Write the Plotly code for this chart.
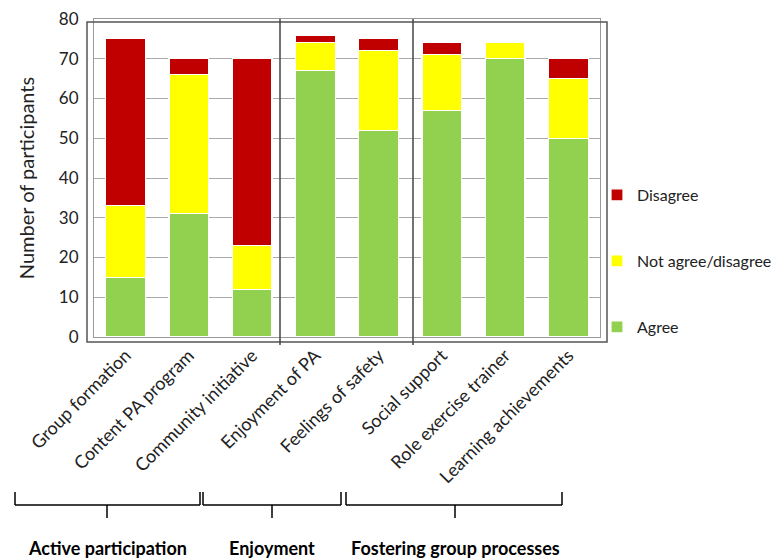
import plotly.graph_objects as go

categories = ["Group formation", "Content PA program", "Community initiative",
              "Enjoyment of PA", "Feelings of safety", "Social support",
              "Role exercise trainer", "Learning achievements"]
agree = [15, 31, 12, 67, 52, 57, 70, 50]
neutral = [18, 35, 11, 7, 20, 14, 4, 15]
disagree = [42, 4, 47, 2, 3, 3, 0, 5]

group_names = ["Active participation", "Enjoyment", "Fostering group processes"]

# layout helpers (pixel -> paper)
L, R, T, B = 94, 600, 19, 337
W, H = R - L, B - T
def px(x):
    return (x - L) / W
def py(y):
    return (B - y) / H

fig = go.Figure()
series = [("Agree", agree, "#92D050", "legend3", 329),
          ("Not agree/disagree", neutral, "#FFFF00", "legend2", 263),
          ("Disagree", disagree, "#C00000", "legend", 197)]
legends = {}
for name, vals, col, lg, ypix in series:
    fig.add_trace(go.Bar(x=categories, y=vals, name=name, legend=lg,
                         marker=dict(color=col, line=dict(color="white", width=1.2))))
    legends[lg] = dict(x=px(597), xanchor="left", y=py(ypix - 19), yanchor="top",
                       itemwidth=30, font=dict(size=16, color="#222222"),
                       bgcolor="rgba(0,0,0,0)")

shapes = []
# outer dark frame
shapes.append(dict(type="rect", xref="paper", yref="paper",
                   x0=px(87), x1=px(607), y0=py(342), y1=py(22),
                   line=dict(color="#555555", width=1.5), layer="above"))
# dividers
for xd in (280, 413):
    shapes.append(dict(type="line", xref="paper", yref="paper",
                       x0=px(xd), x1=px(xd), y0=py(345), y1=py(19),
                       line=dict(color="#444444", width=1.5), layer="above"))
# brackets
brackets = [(15, 200, 107), (203, 341, 272), (346, 562, 455)]
for (a, b, c), gname in zip(brackets, group_names):
    shapes.append(dict(type="line", xref="paper", yref="paper", x0=px(a), x1=px(b),
                       y0=py(505), y1=py(505), line=dict(color="black", width=1.5)))
    for e in (a, b):
        shapes.append(dict(type="line", xref="paper", yref="paper", x0=px(e), x1=px(e),
                           y0=py(492), y1=py(505), line=dict(color="black", width=1.5)))
    shapes.append(dict(type="line", xref="paper", yref="paper", x0=px(c), x1=px(c),
                       y0=py(505), y1=py(518), line=dict(color="black", width=1.5)))
    fig.add_annotation(x=px(c), y=py(548), xref="paper", yref="paper", text="<b>" + gname + "</b>",
                       showarrow=False, font=dict(size=18, color="black", family="Lato"),
                       xanchor="center", yanchor="middle")

fig.update_layout(
    width=771, height=560,
    margin=dict(l=L, r=771 - R, t=T, b=560 - B, autoexpand=False),
    barmode="stack", bargap=0.37,
    plot_bgcolor="white", paper_bgcolor="white",
    font=dict(family="Lato", size=16, color="#222222"),
    shapes=shapes,
    showlegend=True,
    xaxis=dict(tickangle=-45, showline=True, linecolor="#999999", mirror=True,
               showgrid=False, ticks="", tickfont=dict(size=18, color="#222222")),
    yaxis=dict(range=[0, 80], dtick=10, showgrid=True, gridcolor="#aaaaaa",
               showline=True, linecolor="#999999", mirror=True, zeroline=False,
               ticks="", ticklabelstandoff=11,
               tickfont=dict(size=17, color="#222222"),
               title=dict(text="Number of participants", font=dict(size=20, color="#222222"),
                          standoff=18)),
    **legends,
)

fig.write_html("out.html")
